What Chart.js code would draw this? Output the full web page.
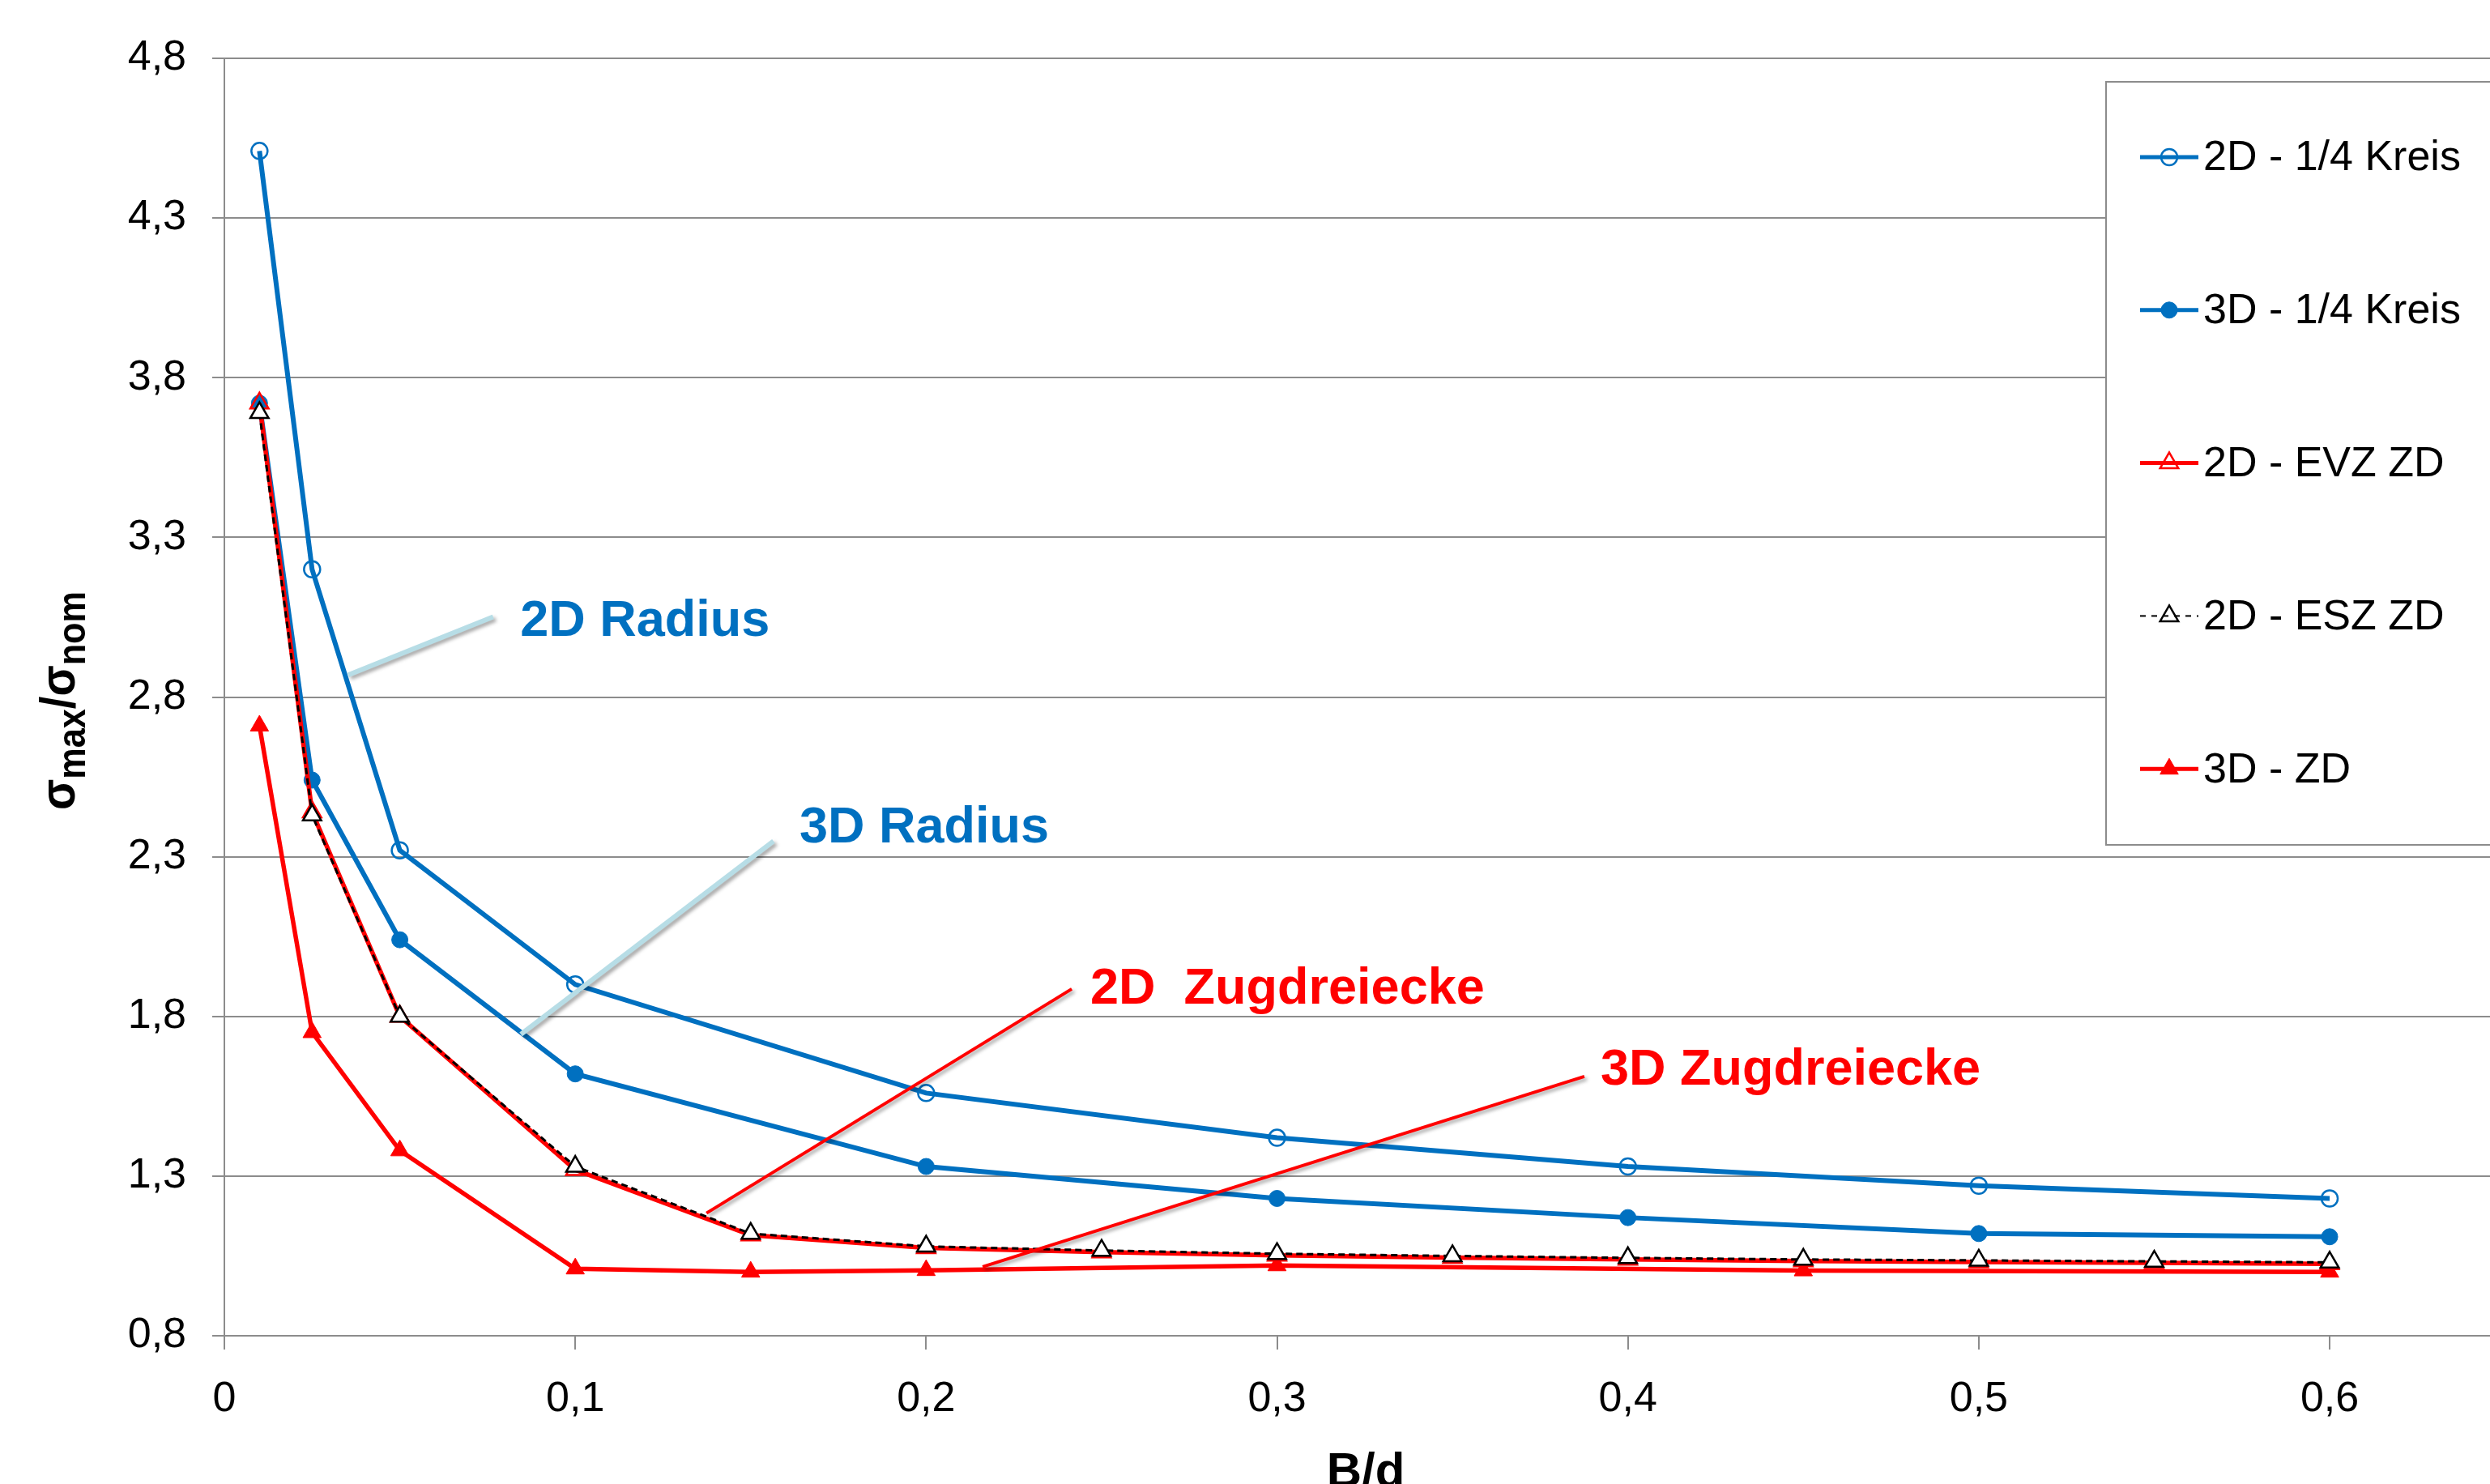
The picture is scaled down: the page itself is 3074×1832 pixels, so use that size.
<!DOCTYPE html>
<html>
<head>
<meta charset="utf-8">
<script src="https://cdn.jsdelivr.net/npm/chart.js@4.4.1/dist/chart.umd.min.js"></script>
<style>
  html, body { margin: 0; padding: 0; background: #fff; }
  #wrap { width: 3074px; height: 1832px; }
</style>
</head>
<body>
<div id="wrap"><canvas id="chart" width="3074" height="1832"></canvas></div>
<script>
// B/d values and stress ratios
const kreisX = [0.01, 0.025, 0.05, 0.1, 0.2, 0.3, 0.4, 0.5, 0.6];
const kreis2D = [4.51, 3.20, 2.32, 1.90, 1.56, 1.42, 1.33, 1.27, 1.23];
const kreis3D = [3.72, 2.54, 2.04, 1.62, 1.33, 1.23, 1.17, 1.12, 1.11];

const zdX = [0.01, 0.025, 0.05, 0.1, 0.15, 0.2, 0.25, 0.3, 0.35, 0.4, 0.45, 0.5, 0.55, 0.6];
const evz2D = [3.72, 2.44, 1.80, 1.32, 1.115, 1.075, 1.062, 1.052, 1.045, 1.039, 1.034, 1.031, 1.028, 1.025];
const esz2D = [3.69, 2.43, 1.80, 1.33, 1.12, 1.08, 1.067, 1.057, 1.05, 1.044, 1.039, 1.036, 1.033, 1.03];

const zd3DX = [0.01, 0.025, 0.05, 0.1, 0.15, 0.2, 0.3, 0.45, 0.6];
const zd3D = [2.71, 1.75, 1.38, 1.01, 1.00, 1.005, 1.02, 1.004, 1.0];

const seriesLabels = ["2D - 1/4 Kreis", "3D - 1/4 Kreis", "2D - EVZ ZD", "2D - ESZ ZD", "3D - ZD"];

const family = "'Liberation Sans', Arial, sans-serif";
const blue = "#0070C0";
const red = "#FF0000";
const gridColor = "#8c8c8c";

const pts = (xs, ys) => xs.map((x, i) => ({ x: x, y: ys[i] }));
const fmt = (v) => String(Math.round(v * 10) / 10).replace(".", ",");

// text callouts, anchored in data units
const notes = [
  { text: "2D Radius", color: blue, line: "#B7DDE6", lw: 6, at: [0.0843, 2.991], from: [0.0766, 3.051], to: [0.0353, 2.869] },
  { text: "3D Radius", color: blue, line: "#B7DDE6", lw: 6, at: [0.1639, 2.344], from: [0.1565, 2.349], to: [0.0845, 1.744] },
  { text: "2D  Zugdreiecke", color: red, line: red, lw: 4, at: [0.2468, 1.840], from: [0.2415, 1.886], to: [0.1374, 1.184] },
  { text: "3D Zugdreiecke", color: red, line: red, lw: 4, at: [0.3922, 1.587], from: [0.3876, 1.612], to: [0.2161, 1.016] },
];

function marker(ctx, style, r, x, y, fill, stroke, bw) {
  ctx.beginPath();
  if (style === "circle") {
    ctx.arc(x, y, r, 0, Math.PI * 2);
  } else {
    ctx.moveTo(x, y - r);
    ctx.lineTo(x + r * Math.sin(Math.PI * 2 / 3), y - r * Math.cos(Math.PI * 2 / 3));
    ctx.lineTo(x + r * Math.sin(Math.PI * 4 / 3), y - r * Math.cos(Math.PI * 4 / 3));
    ctx.closePath();
  }
  if (fill && fill !== "transparent") { ctx.fillStyle = fill; ctx.fill(); }
  ctx.lineWidth = bw;
  ctx.strokeStyle = stroke;
  ctx.stroke();
}

const notesPlugin = {
  id: "notes",
  afterDatasetsDraw(chart) {
    const { ctx } = chart;
    const x = chart.scales.x, y = chart.scales.y;
    notes.forEach((n) => {
      ctx.save();
      ctx.shadowColor = "rgba(0,0,0,0.35)";
      ctx.shadowBlur = 4;
      ctx.shadowOffsetX = 3;
      ctx.shadowOffsetY = 3;
      ctx.strokeStyle = n.line;
      ctx.lineWidth = n.lw;
      ctx.beginPath();
      ctx.moveTo(x.getPixelForValue(n.from[0]), y.getPixelForValue(n.from[1]));
      ctx.lineTo(x.getPixelForValue(n.to[0]), y.getPixelForValue(n.to[1]));
      ctx.stroke();
      ctx.restore();

      ctx.save();
      ctx.fillStyle = n.color;
      ctx.font = "bold 63px " + family;
      ctx.textBaseline = "alphabetic";
      ctx.fillText(n.text, x.getPixelForValue(n.at[0]), y.getPixelForValue(n.at[1]));
      ctx.restore();
    });
  },
};

// legend box sits on top of the plot, like in the original
const legendPlugin = {
  id: "boxLegend",
  afterDraw(chart) {
    const { ctx } = chart;
    ctx.save();
    ctx.fillStyle = "#fff";
    ctx.fillRect(2600, 101, 480, 942);
    ctx.strokeStyle = gridColor;
    ctx.lineWidth = 2;
    ctx.strokeRect(2600, 101, 480, 942);

    chart.data.datasets.forEach((ds, i) => {
      const cy = 194 + i * 188.8;
      ctx.save();
      ctx.strokeStyle = ds.borderColor;
      ctx.lineWidth = ds.borderDash ? 2 : 5;
      ctx.setLineDash(ds.borderDash ? [7, 7] : []);
      ctx.beginPath();
      ctx.moveTo(2642, cy);
      ctx.lineTo(2714, cy);
      ctx.stroke();
      ctx.restore();
      const legendFill = ds.pointBackgroundColor === "#fff" ? "transparent" : ds.pointBackgroundColor;
      marker(ctx, ds.pointStyle, ds.pointRadius, 2678, cy, legendFill, ds.pointBorderColor, ds.pointBorderWidth);
      ctx.fillStyle = "#000";
      ctx.font = "52px " + family;
      ctx.textBaseline = "middle";
      ctx.fillText(ds.label, 2720, cy + 2);
    });
    ctx.restore();
  },
};

const titlesPlugin = {
  id: "axisTitles",
  afterDraw(chart) {
    const { ctx } = chart;
    ctx.save();
    ctx.fillStyle = "#000";
    ctx.font = "bold 60px " + family;
    ctx.textAlign = "center";
    ctx.textBaseline = "alphabetic";
    ctx.fillText("B/d", 1686, 1835);

    // y title: σmax/σnom, rotated
    const big = "bold 62px " + family;
    const small = "bold 48px " + family;
    const parts = [["σ", big, 0], ["max", small, 13], ["/σ", big, 0], ["nom", small, 13]];
    let total = 0;
    parts.forEach((p) => { ctx.font = p[1]; total += ctx.measureText(p[0]).width; });
    ctx.translate(92, 1000);
    ctx.rotate(-Math.PI / 2);
    ctx.scale(270 / total, 1);
    ctx.textAlign = "left";
    let pos = 0;
    parts.forEach((p) => {
      ctx.font = p[1];
      ctx.fillText(p[0], pos, p[2]);
      pos += ctx.measureText(p[0]).width;
    });
    ctx.restore();
  },
};

Chart.defaults.font.family = family;

new Chart(document.getElementById("chart"), {
  type: "line",
  data: {
    datasets: [
      {
        label: seriesLabels[0], data: pts(kreisX, kreis2D), order: 5,
        borderColor: blue, borderWidth: 6, pointStyle: "circle", pointRadius: 10,
        pointBorderWidth: 2.5, pointBorderColor: blue, pointBackgroundColor: "transparent",
      },
      {
        label: seriesLabels[1], data: pts(kreisX, kreis3D), order: 4,
        borderColor: blue, borderWidth: 6, pointStyle: "circle", pointRadius: 10,
        pointBorderWidth: 1, pointBorderColor: blue, pointBackgroundColor: blue,
      },
      {
        label: seriesLabels[2], data: pts(zdX, evz2D), order: 3,
        borderColor: red, borderWidth: 5.5, pointStyle: "triangle", pointRadius: 13,
        pointBorderWidth: 2.5, pointBorderColor: red, pointBackgroundColor: "transparent",
      },
      {
        label: seriesLabels[3], data: pts(zdX, esz2D), order: 1,
        borderColor: "#000", borderWidth: 3, borderDash: [8, 5], pointStyle: "triangle", pointRadius: 13,
        pointBorderWidth: 2.5, pointBorderColor: "#000", pointBackgroundColor: "#fff",
      },
      {
        label: seriesLabels[4], data: pts(zd3DX, zd3D), order: 2,
        borderColor: red, borderWidth: 5.5, pointStyle: "triangle", pointRadius: 13,
        pointBorderWidth: 1, pointBorderColor: red, pointBackgroundColor: red,
      },
    ],
  },
  options: {
    responsive: false,
    animation: false,
    layout: { autoPadding: false, padding: { top: 72, left: 0, right: 0, bottom: 0 } },
    plugins: { legend: { display: false }, tooltip: { enabled: false } },
    elements: { line: { tension: 0 } },
    scales: {
      x: {
        type: "linear", min: 0, max: 0.6457,
        afterFit: (s) => { s.height = 183; },
        grid: { drawOnChartArea: false, tickLength: 17, color: gridColor, lineWidth: 2 },
        border: { display: true, color: gridColor, width: 2 },
        ticks: {
          stepSize: 0.1, includeBounds: false, maxRotation: 0, autoSkip: false,
          color: "#000", font: { size: 52 }, padding: 30, callback: fmt,
        },
      },
      y: {
        type: "linear", min: 0.8, max: 4.8,
        afterFit: (s) => { s.width = 277; },
        grid: { tickLength: 15, color: gridColor, lineWidth: 2 },
        border: { display: true, color: gridColor, width: 2 },
        ticks: { stepSize: 0.5, color: "#000", font: { size: 52 }, padding: 32, callback: fmt },
      },
    },
  },
  plugins: [notesPlugin, legendPlugin, titlesPlugin],
});
</script>
</body>
</html>
